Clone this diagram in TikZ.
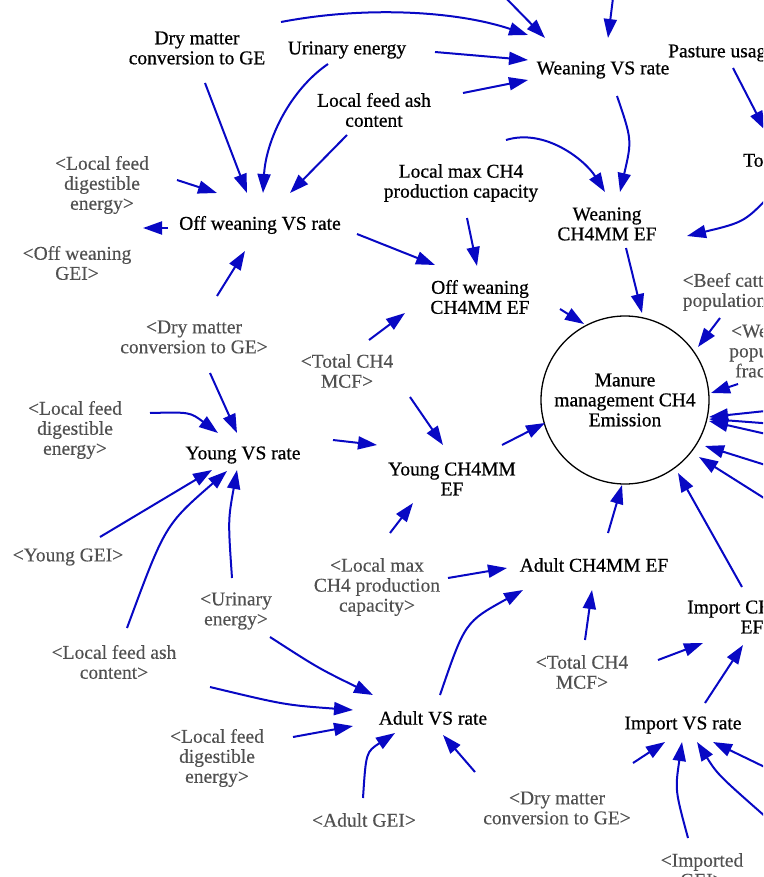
\documentclass[tikz,border=0pt]{standalone}
\usepackage{fontspec}
\setmainfont{Liberation Serif}
\newfontfamily\heavyserif[FakeBold=0.7]{Liberation Serif}
\newfontfamily\lightserif[FakeBold=0.3]{Liberation Serif}
\usetikzlibrary{arrows.meta,calc}
\definecolor{linkblue}{RGB}{8,8,196}
\definecolor{shadowgray}{RGB}{80,80,80}

\begin{document}
\begin{tikzpicture}[x=1pt,y=-1pt,
  var/.style={font=\heavyserif\fontsize{19.5}{20}\selectfont, text=black, align=center, inner sep=0pt},
  shadowvar/.style={font=\lightserif\fontsize{19.5}{20}\selectfont, text=shadowgray, align=center, inner sep=0pt},
  link/.style={draw=linkblue, line width=2pt, -{Triangle[length=19pt,width=13pt]}},
  stock/.style={draw=black, line width=1.3pt, circle, minimum size=168pt, inner sep=0pt,
    font=\heavyserif\fontsize{19.5}{20}\selectfont, align=center}]
\useasboundingbox (0,0) rectangle (763,877);
\clip (0,0) rectangle (763,877);

% ---------- variables ----------
\node[var] (dmc)   at (197,48)  {Dry matter\\conversion to GE};
\node[var] (ue)    at (347,50)  {Urinary energy};
\node[var] (lfa)   at (374,110) {Local feed ash\\content};
\node[var] (wvs)   at (603,70)  {Weaning VS rate};
\node[var, anchor=west] (pas) at (668,53) {Pasture usage};
\node[var, anchor=west] (tot) at (743,160) {Total CH4 MCF};
\node[var] (lmx)   at (461,183) {Local max CH4\\production capacity};
\node[var] (wef)   at (607,224) {Weaning\\CH4MM EF};
\node[var] (owvs)  at (260,225) {Off weaning VS rate};
\node[var] (owef)  at (480,297) {Off weaning\\CH4MM EF};
\node[stock] (mm)  at (625,400) {Manure\\management CH4\\Emission};
\node[var] (yvs)   at (243,455) {Young VS rate};
\node[var] (yef)   at (452,479) {Young CH4MM\\EF};
\node[var] (aef)   at (594,565) {Adult CH4MM EF};
\node[var] (avs)   at (433,718) {Adult VS rate};
\node[var] (ivs)   at (683,725) {Import VS rate};
\node[var] (ief)   at (752,617) {Import CH4MM\\EF};

% ---------- shadow variables ----------
\node[shadowvar] (lfd1)  at (102,185) {<Local feed\\digestible\\energy>};
\node[shadowvar] (owgei) at (77,263)  {<Off weaning\\GEI>};
\node[shadowvar] (beef)  at (730,292) {<Beef cattle\\population>};
\node[shadowvar] (wpf)   at (771,351) {<Weaning\\population\\fraction>};
\node[shadowvar] (dmc1)  at (194,337) {<Dry matter\\conversion to GE>};
\node[shadowvar] (tmcf1) at (347,371) {<Total CH4\\MCF>};
\node[shadowvar] (lfd2)  at (75,430)  {<Local feed\\digestible\\energy>};
\node[shadowvar] (ygei)  at (68,557)  {<Young GEI>};
\node[shadowvar] (lmx2)  at (377,587) {<Local max\\CH4 production\\capacity>};
\node[shadowvar] (ue2)   at (236,611) {<Urinary\\energy>};
\node[shadowvar] (lfa2)  at (114,662) {<Local feed ash\\content>};
\node[shadowvar] (lfd3)  at (217,758) {<Local feed\\digestible\\energy>};
\node[shadowvar] (agei)  at (364,820) {<Adult GEI>};
\node[shadowvar] (tmcf2) at (582,672) {<Total CH4\\MCF>};
\node[shadowvar] (dmc2)  at (557,808) {<Dry matter\\conversion to GE>};
\node[shadowvar] (igei)  at (702,870) {<Imported\\GEI>};

% ---------- links entering from beyond the frame ----------
\coordinate (top1) at (498,-10);
\coordinate (top2) at (614,-10);
\coordinate (r1) at (775,410);
\coordinate (r2) at (775,424);
\coordinate (r3) at (775,436);
\coordinate (r4) at (775,468);
\coordinate (r5) at (775,505);
\coordinate (r6) at (775,825);
\coordinate (r7) at (775,772);

% ---------- weaning branch ----------
\draw[link] ($(dmc)+(84,-26)$) .. controls (370,5) and (460,12) .. ($(wvs)+(-75,-35)$);
\draw[link] (top1) -- ($(wvs)+(-58,-32)$);
\draw[link] (top2) -- ($(wvs)+(5,-32)$);
\draw[link] ($(ue)+(88,2)$) -- ($(wvs)+(-75,-10)$);
\draw[link] ($(lfa)+(89,-17)$) -- ($(wvs)+(-75,10)$);
\draw[link] ($(wvs)+(14,26)$) .. controls (632,140) .. ($(wef)+(13,-32)$);
\draw[link] ($(lmx)+(45,-43)$) .. controls (545,128) and (585,160) .. ($(wef)+(-2,-32)$);
\draw[link] ($(tot.west)+(32,30)$) .. controls (745,222) .. ($(wef)+(80,12)$);
\draw[link] ($(pas.west)+(65,15)$) -- ($(tot.west)+(22,-30)$);
\draw[link] ($(wef)+(19,24)$) -- ($(mm)+(17,-87)$);

% ---------- off weaning branch ----------
\draw[link] ($(dmc)+(8,35)$) -- ($(owvs)+(-13,-32)$);
\draw[link] ($(ue)+(-19,14)$) .. controls (290,90) and (266,140) .. ($(owvs)+(3,-32)$);
\draw[link] ($(lfa)+(-27,25)$) -- ($(owvs)+(30,-32)$);
\draw[link] ($(lfd1)+(75,-5)$) -- ($(owvs)+(-43,-32)$);
\draw[link] ($(owvs)+(-92,3)$) -- ($(owgei)+(66,-35)$);
\draw[link] ($(dmc1)+(23,-41)$) -- ($(owvs)+(-15,26)$);
\draw[link] ($(owvs)+(97,9)$) -- ($(owef)+(-45,-32)$);
\draw[link] ($(lmx)+(6,35)$) -- ($(owef)+(-3,-31)$);
\draw[link] ($(owef)+(80,12)$) -- ($(mm)+(-41,-76)$);
\draw[link] ($(tmcf1)+(22,-31)$) -- ($(owef)+(-75,16)$);

% ---------- inputs to the emission ----------
\draw[link] ($(beef)+(-10,26)$) -- ($(mm)+(73,-53)$);
\draw[link] ($(wpf)+(-33,33)$) -- ($(mm)+(86,-7)$);
\draw[link] (r1) -- ($(mm)+(84,17)$);
\draw[link] (r2) -- ($(mm)+(84,19)$);
\draw[link] (r3) -- ($(mm)+(84,21)$);
\draw[link] (r4) -- ($(mm)+(80,46)$);
\draw[link] (r5) -- ($(mm)+(74,57)$);
\draw[link] ($(ief)+(-10,-30)$) -- ($(mm)+(53,73)$);

% ---------- young branch ----------
\draw[link] ($(tmcf1)+(63,26)$) -- ($(yef)+(-9,-34)$);
\draw[link] ($(yef)+(50,-34)$) -- ($(mm)+(-80,23)$);
\draw[link] ($(lmx2)+(13,-54)$) -- ($(yef)+(-39,24)$);
\draw[link] ($(yvs)+(90,-15)$) -- ($(yef)+(-75,-34)$);
\draw[link] ($(dmc1)+(16,36)$) -- ($(yvs)+(-6,-22)$);
\draw[link] ($(lfd2)+(75,-17)$) .. controls (190,412) .. ($(yvs)+(-25,-22)$);
\draw[link] ($(ygei)+(32,-20)$) -- ($(yvs)+(-31,15)$);
\draw[link] ($(lfa2)+(13,-34)$) .. controls (165,525) .. ($(yvs)+(-16,16)$);
\draw[link] ($(ue2)+(-4,-33)$) .. controls (228,520) .. ($(yvs)+(-6,15)$);

% ---------- adult branch ----------
\draw[link] ($(aef)+(14,-32)$) -- ($(mm)+(-3,85)$);
\draw[link] ($(lmx2)+(71,-9)$) -- ($(aef)+(-87,3)$);
\draw[link] ($(ue2)+(34,26)$) .. controls (318,668) .. ($(avs)+(-60,-23)$);
\draw[link] ($(lfa2)+(96,25)$) .. controls (285,705) .. ($(avs)+(-80,-8)$);
\draw[link] ($(lfd3)+(76,-21)$) -- ($(avs)+(-80,8)$);
\draw[link] ($(agei)+(-1,-22)$) .. controls (366,752) .. ($(avs)+(-38,15)$);
\draw[link] ($(dmc2)+(-82,-36)$) -- ($(avs)+(10,17)$);
\draw[link] ($(avs)+(7,-23)$) .. controls (465,622) .. ($(aef)+(-71,25)$);
\draw[link] ($(tmcf2)+(3,-32)$) -- ($(aef)+(-2,25)$);

% ---------- import branch ----------
\draw[link] ($(tmcf2)+(76,-12)$) -- ($(ief)+(-49,26)$);
\draw[link] ($(ivs)+(22,-22)$) -- ($(ief)+(-9,28)$);
\draw[link] ($(dmc2)+(76,-45)$) -- ($(ivs)+(-18,17)$);
\draw[link] ($(igei)+(-14,-32)$) .. controls (675,790) .. ($(ivs)+(-1,17)$);
\draw[link] (r6) .. controls (718,775) .. ($(ivs)+(14,17)$);
\draw[link] (r7) -- ($(ivs)+(30,17)$);
\end{tikzpicture}
\end{document}
